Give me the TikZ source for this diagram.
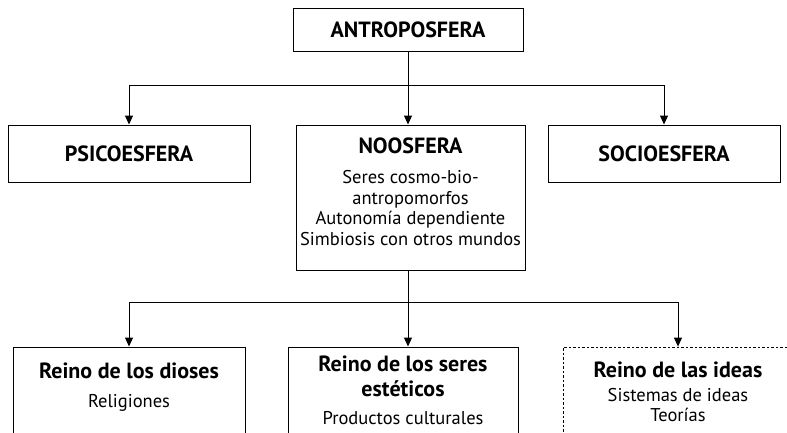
\documentclass[tikz,border=0pt]{standalone}
\usepackage{fontspec}
\setmainfont{PT Sans}
\usetikzlibrary{arrows.meta}
\tikzset{
  box/.style={draw, line width=1pt, rectangle, inner sep=0pt, fill=white},
  dbox/.style={draw, line width=0.8pt, dashed, dash pattern=on 2.5pt off 2pt, rectangle, inner sep=0pt},
  head/.style={font=\fontsize{22}{25}\selectfont\bfseries, inner sep=0pt, align=center},
  body/.style={font=\fontsize{18.5}{20.7}\selectfont, inner sep=0pt, align=center},
  conn/.style={line width=1pt},
  arr/.style={line width=1pt, -{Triangle[length=9pt, width=8pt]}}
}
\begin{document}
\begin{tikzpicture}[x=1pt, y=-1pt]
\useasboundingbox (0,0) rectangle (787,432);
\clip (0,0) rectangle (787,432);
% top
\node[box, minimum width=230pt, minimum height=43pt] (antro) at (408,30) {};
\node[head] (antrot) at (antro.center) {ANTROPOSFERA};
% level 2
\node[box, minimum width=242pt, minimum height=57pt] (psico) at (129,153.5) {};
\node[head] (psicot) at (psico.center) {PSICOESFERA};
\node[box, minimum width=229pt, minimum height=145pt] (noo) at (410.5,197.5) {};
\node[head] (noot) at (410.5,146) {NOOSFERA};
\node[body] (noob) at (410.5,208) {Seres cosmo-bio-\\antropomorfos\\Autonomía dependiente\\Simbiosis con otros mundos};
\node[box, minimum width=232pt, minimum height=57pt] (socio) at (664,153.5) {};
\node[head] (sociot) at (socio.center) {SOCIOESFERA};
% level 3
\node[box, minimum width=232pt, minimum height=113pt] (dioses) at (129,403.5) {};
\node[head] (diosest) at (129,371) {Reino de los dioses};
\node[body] (diosesb) at (129,403) {Religiones};
\node[box, minimum width=230pt, minimum height=113pt] (esteticos) at (403,403.5) {};
\node[head] (esteticost) at (403,376) {Reino de los seres\\estéticos};
\node[body] (esteticosb) at (403,418) {Productos culturales};
\node[dbox, minimum width=240pt, minimum height=113pt] (ideas) at (683,403.5) {};
\node[head] (ideast) at (678,370) {Reino de las ideas};
\node[body] (ideasb) at (678,405) {Sistemas de ideas\\Teorías};
% connectors
\coordinate (j1) at (408,85);
\coordinate (l1) at (129,85);
\coordinate (r1) at (664,85);
\draw[conn] (antro.south) -- (j1);
\draw[conn] (l1) -- (r1);
\draw[arr] (l1) -- (psico.north);
\draw[arr] (j1) -- (j1 |- noo.north);
\draw[arr] (r1) -- (socio.north);
\coordinate (j2) at (408,302);
\coordinate (l2) at (129,302);
\coordinate (r2) at (678,302);
\draw[conn] (j1 |- noo.south) -- (j2);
\draw[conn] (l2) -- (r2);
\draw[arr] (l2) -- (dioses.north);
\draw[arr] (j2) -- (j2 |- esteticos.north);
\draw[arr] (r2) -- (r2 |- ideas.north);
\end{tikzpicture}
\end{document}
